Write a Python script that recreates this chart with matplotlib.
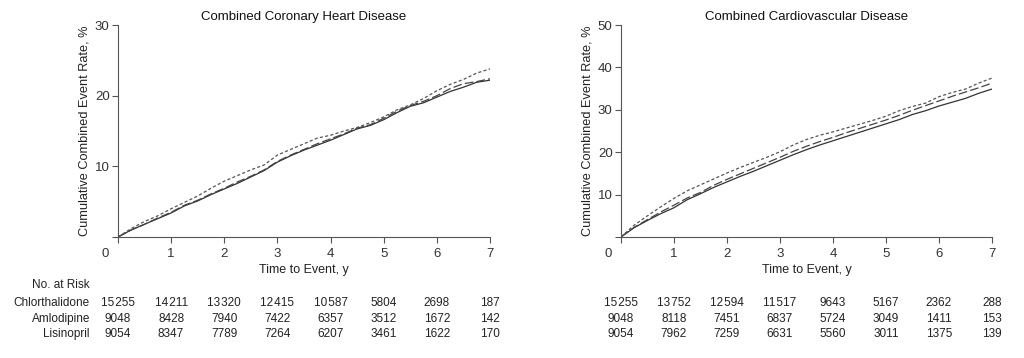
import matplotlib
matplotlib.use("Agg")
import matplotlib.pyplot as plt

plt.rcParams['font.family'] = ['Liberation Sans', 'DejaVu Sans']
plt.rcParams['font.size'] = 8.5

# years of follow-up
years = [0, 0.25, 0.5, 0.75, 1, 1.25, 1.5, 1.75, 2, 2.25, 2.5, 2.75, 3, 3.25, 3.5, 3.75,
         4, 4.25, 4.5, 4.75, 5, 5.25, 5.5, 5.75, 6, 6.25, 6.5, 6.75, 7]

# Combined coronary heart disease, cumulative %
chd_chlor = [0, 1.0, 1.8, 2.6, 3.4, 4.4, 5.1, 6.0, 6.8, 7.6, 8.5, 9.4, 10.6, 11.5, 12.3, 13.0,
             13.7, 14.5, 15.3, 15.8, 16.6, 17.6, 18.5, 19.0, 19.8, 20.6, 21.2, 21.9, 22.2]
chd_amlo = [0, 1.0, 1.8, 2.7, 3.5, 4.5, 5.2, 6.1, 6.9, 7.8, 8.6, 9.5, 10.7, 11.6, 12.4, 13.2,
            13.9, 14.6, 15.4, 15.9, 16.8, 17.8, 18.6, 19.2, 20.0, 21.0, 21.7, 22.0, 22.4]
chd_lisin = [0, 1.2, 2.2, 3.0, 4.0, 4.9, 5.8, 6.9, 7.9, 8.7, 9.5, 10.2, 11.6, 12.4, 13.2, 14.0,
             14.4, 15.0, 15.5, 16.2, 17.0, 18.0, 18.7, 19.6, 20.7, 21.6, 22.3, 23.2, 23.8]

# Combined cardiovascular disease, cumulative %
cvd_chlor = [0, 2.2, 3.9, 5.5, 6.9, 8.8, 10.2, 11.7, 13.0, 14.3, 15.5, 16.8, 18.1, 19.4, 20.6, 21.7,
             22.7, 23.7, 24.7, 25.7, 26.7, 27.7, 28.9, 29.8, 30.9, 31.8, 32.7, 33.9, 34.9]
cvd_amlo = [0, 2.3, 4.1, 5.9, 7.5, 9.2, 10.5, 12.2, 13.6, 14.9, 16.2, 17.5, 18.8, 20.2, 21.4, 22.5,
            23.5, 24.6, 25.6, 26.6, 27.6, 28.7, 29.9, 31.0, 32.1, 33.2, 34.2, 35.2, 36.3]
cvd_lisin = [0, 2.8, 5.0, 7.1, 9.1, 10.9, 12.3, 13.7, 15.1, 16.4, 17.6, 18.8, 20.1, 21.7, 23.0, 24.0,
             24.8, 25.7, 26.6, 27.5, 28.5, 29.8, 30.8, 31.6, 33.1, 34.1, 34.9, 36.3, 37.5]

risk_labels = ['Chlorthalidone', 'Amlodipine', 'Lisinopril']
risk_years = [0, 1, 2, 3, 4, 5, 6, 7]
chd_risk = [[15255, 14211, 13320, 12415, 10587, 5804, 2698, 187],
            [9048, 8428, 7940, 7422, 6357, 3512, 1672, 142],
            [9054, 8347, 7789, 7264, 6207, 3461, 1622, 170]]
cvd_risk = [[15255, 13752, 12594, 11517, 9643, 5167, 2362, 288],
            [9048, 8118, 7451, 6837, 5724, 3049, 1411, 153],
            [9054, 7962, 7259, 6631, 5560, 3011, 1375, 139]]


def fmt(n):
    s = str(n)
    if n >= 10000:
        s = s[:-3] + '\u200a' + s[-3:]
    return s


fig = plt.figure(figsize=(10.24, 3.58), dpi=100)
ax1 = fig.add_axes([0.1152, 0.338, 0.3633, 0.592])
ax2 = fig.add_axes([0.6064, 0.338, 0.3623, 0.592])

panels = [
    (ax1, 'Combined Coronary Heart Disease', 30, [10, 20, 30], (chd_chlor, chd_amlo, chd_lisin), chd_risk),
    (ax2, 'Combined Cardiovascular Disease', 50, [10, 20, 30, 40, 50], (cvd_chlor, cvd_amlo, cvd_lisin), cvd_risk),
]

spine_col = '#555555'
txt_col = '#222222'
for ax, ttl, ymax, yt, series, risk in panels:
    chlor, amlo, lisin = series
    ax.plot(years, chlor, color='#333333', lw=0.9)
    ax.plot(years, amlo, color='#444444', lw=0.9, dashes=(7, 2.5))
    ax.plot(years, lisin, color='#555555', lw=0.9, dashes=(2.5, 1.8))
    ax.set_xlim(0, 7)
    ax.set_ylim(0, ymax)
    ax.set_xticks(risk_years)
    ax.set_xticklabels([''] + [str(v) for v in risk_years[1:]])
    ax.set_yticks([0] + yt)
    ax.set_yticklabels([''] + [str(v) for v in yt])
    for s in ['top', 'right']:
        ax.spines[s].set_visible(False)
    for s in ['left', 'bottom']:
        ax.spines[s].set_color(spine_col)
        ax.spines[s].set_linewidth(0.8)
    ax.tick_params(direction='out', length=4, width=0.8, color=spine_col,
                   labelcolor='#333333', labelsize=9.5, pad=2)
    ax.tick_params(axis='x', pad=4)
    ax.text(-0.025, -0.05, '0', transform=ax.transAxes, ha='right', va='top',
            fontsize=9.5, color='#333333')
    ax.set_title(ttl, fontsize=9.5, color='#111111', pad=4)
    ax.set_xlabel('Time to Event, y', fontsize=9, color=txt_col, labelpad=3)
    ax.set_ylabel('Cumulative Combined Event Rate, %', fontsize=9.2, color=txt_col, labelpad=3)

    # number at risk rows
    row_y = [302.7, 319, 334]
    for r, row in enumerate(risk):
        yfig = 1 - row_y[r] / 358
        for xv, n in zip(risk_years, row):
            xd = ax.transData.transform((xv, 0))[0] / fig.bbox.width
            fig.text(xd, yfig, fmt(n), ha='center', va='center', fontsize=8.5, color=txt_col)

fig.text(90 / 1024, 1 - 285 / 358, 'No. at Risk', ha='right', va='center', fontsize=8.5, color=txt_col)
for r, lab in enumerate(risk_labels):
    fig.text(90 / 1024, 1 - [302.7, 319, 334][r] / 358, lab, ha='right', va='center',
             fontsize=8.5, color=txt_col)

fig.savefig('out.png', dpi=100)
